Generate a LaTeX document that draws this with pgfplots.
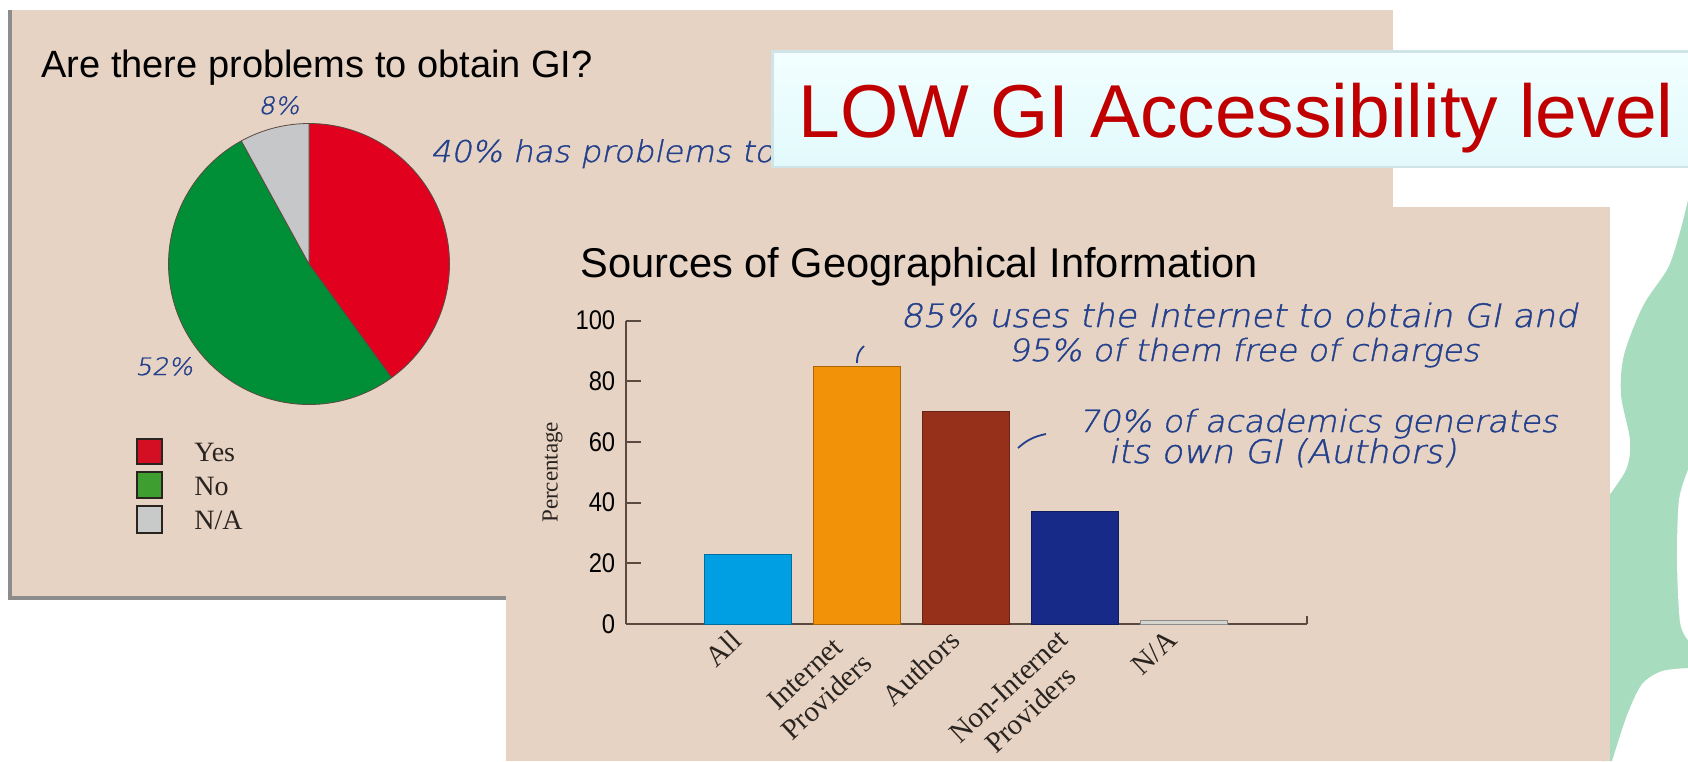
\documentclass[border=0pt]{standalone}
\usepackage{fontspec}
\setmainfont{Liberation Serif}
\newfontfamily\arial{Liberation Sans}
\newfontfamily\arialc{Liberation Sans}[FakeStretch=0.88]
\newfontfamily\hand{DejaVu Sans ExtraLight}[FakeSlant=0.2, FakeStretch=1.08, FakeBold=1.2]
\usepackage{pgfplots}
\pgfplotsset{compat=1.18}
\definecolor{panel}{HTML}{E6D3C4}
\definecolor{panelborder}{HTML}{8C8C8C}
\definecolor{pieyes}{HTML}{E1001E}
\definecolor{pieno}{HTML}{008F36}
\definecolor{piena}{HTML}{C5C7C8}
\definecolor{legyes}{HTML}{D40F24}
\definecolor{legno}{HTML}{3E9E2F}
\definecolor{legna}{HTML}{C8C9C9}
\definecolor{pieedge}{HTML}{5A4A40}
\definecolor{axiscol}{HTML}{5A4A40}
\definecolor{cAll}{HTML}{009FE3}
\definecolor{cIP}{HTML}{F29209}
\definecolor{cAu}{HTML}{96301B}
\definecolor{cNI}{HTML}{172A88}
\definecolor{cNA}{HTML}{D5D5CD}
\definecolor{handblue}{HTML}{23408C}
\definecolor{titlered}{HTML}{C00000}
\definecolor{boxtop}{HTML}{F2FEFF}
\definecolor{boxbot}{HTML}{E2FAFC}
\definecolor{boxborder}{HTML}{CFE4E6}
\definecolor{greenblob}{HTML}{A8DCBE}
\definecolor{textdark}{HTML}{2A2420}
\begin{document}
\begin{tikzpicture}
\path[use as bounding box] (0pt,0pt) rectangle (844pt,-380.5pt);
\clip (0pt,0pt) rectangle (844pt,-380.5pt);
\begin{scope}[x=0.5pt,y=-0.5pt]
\fill[white] (0,0) rectangle (1688,761);
% green decorative blob
\fill[greenblob] plot[smooth, tension=0.5] coordinates {(1688,200) (1680,232) (1668,268) (1643,306) (1624,355) (1621,395) (1630,440) (1626,470) (1602,505)}
  -- (1602,761) -- plot[smooth, tension=0.5] coordinates {(1612,761) (1627,715) (1642,684) (1662,671) (1688,668)} -- cycle;
\fill[white] plot[smooth, tension=0.5] coordinates {(1688,640) (1680,622) (1677,560) (1679,500) (1688,470)} -- cycle;
% back panel
\fill[panel] (10,10) rectangle (1393,598);
\fill[panelborder] (8,10) rectangle (12,600);
\fill[panelborder] (8,596) rectangle (520,600);
\node[anchor=base west, inner sep=0pt, text=black, font=\arial\fontsize{19}{22}\selectfont] at (41,77) {Are there problems to obtain GI?};
% legend
\filldraw[fill=legyes, draw=textdark, line width=0.6pt] (137,439) rectangle (162,464);
\filldraw[fill=legno, draw=textdark, line width=0.6pt] (137,472) rectangle (162,498);
\filldraw[fill=legna, draw=textdark, line width=0.6pt] (137,506) rectangle (162,533);
\node[anchor=west, inner sep=0pt, text=textdark, font=\fontsize{14}{16}\selectfont] at (194,452) {Yes};
\node[anchor=west, inner sep=0pt, text=textdark, font=\fontsize{14}{16}\selectfont] at (194,486) {No};
\node[anchor=west, inner sep=0pt, text=textdark, font=\fontsize{14}{16}\selectfont] at (194,520) {N/A};
% handwritten notes on the pie slide
\node[anchor=base west, inner sep=0pt, text=handblue, font=\hand\fontsize{12}{14}\selectfont] at (258,114) {8\%};
\node[anchor=base west, inner sep=0pt, text=handblue, font=\hand\fontsize{12}{14}\selectfont] at (135,375) {52\%};
\node[anchor=base west, inner sep=0pt, text=handblue, font=\hand\fontsize{15}{17}\selectfont] at (430,162) {40\% has problems to obtain GI};
\end{scope}
% pie chart
\begin{axis}[at={(154.5pt,-132pt)}, anchor=center, hide axis, scale only axis,
  x=0.5pt, y=0.5pt, xmin=-142, xmax=142, ymin=-142, ymax=142, clip=false]
\filldraw[fill=pieyes, draw=pieedge, line width=0.4pt] (axis cs:0,0) -- (axis cs:0,140.5)
  arc[start angle=90, delta angle={-3.6*40}, radius=70.25pt] -- cycle;
\filldraw[fill=pieno, draw=pieedge, line width=0.4pt] (axis cs:0,0) -- ++({90-3.6*40}:70.25pt)
  arc[start angle={90-3.6*40}, delta angle={-3.6*52}, radius=70.25pt] -- cycle;
\filldraw[fill=piena, draw=pieedge, line width=0.4pt] (axis cs:0,0) -- ++({90-3.6*92}:70.25pt)
  arc[start angle={90-3.6*92}, delta angle={-3.6*8}, radius=70.25pt] -- cycle;
\end{axis}
\begin{scope}[x=0.5pt,y=-0.5pt]
% title box
\fill[boxborder] (771,50) rectangle (1688,168);
\shade[top color=boxtop, bottom color=boxbot] (774,53) rectangle (1688,165);
\node[anchor=base west, inner sep=0pt, text=titlered, font=\arial\fontsize{37.5}{40}\selectfont] at (798,137) {LOW GI Accessibility level};
% front panel
\fill[panel] (506,207) rectangle (1610,761);
\node[anchor=base west, inner sep=0pt, text=black, font=\arial\fontsize{20.8}{23}\selectfont] at (580,277) {Sources of Geographical Information};
% notes
\node[anchor=base west, inner sep=0pt, text=handblue, font=\hand\fontsize{16.1}{18}\selectfont] at (900,327) {85\% uses the Internet to obtain GI and};
\node[anchor=base west, inner sep=0pt, text=handblue, font=\hand\fontsize{15.3}{17}\selectfont] at (1008,361) {95\% of them free of charges};
\node[anchor=base west, inner sep=0pt, text=handblue, font=\hand\fontsize{15.3}{17}\selectfont] at (1078,432) {70\% of academics generates};
\node[anchor=base west, inner sep=0pt, text=handblue, font=\hand\fontsize{16.2}{18}\selectfont] at (1108,463) {its own GI (Authors)};
\draw[handblue, line width=0.9pt] (864,346) to[bend right=25] (857,363);
\draw[handblue, line width=0.9pt] (1018,448) to[bend left=15] (1046,434);
\end{scope}
% bar chart
\begin{axis}[
  at={(312.8pt,-312pt)}, anchor=south west,
  scale only axis, width=340.7pt, height=151.7pt,
  xmin=-1.12, xmax=5.13, ymin=0, ymax=100,
  axis lines*=left,
  axis line style={draw=axiscol, line width=1pt},
  ytick={0,20,40,60,80,100},
  xtick={0,1,2,3,4},
  xticklabels={All,{Internet\\Providers},Authors,{Non-Internet\\Providers},N/A},
  x tick style={draw=none},
  y tick style={draw=axiscol, line width=1pt},
  tick align=inside,
  major tick length=7.5pt,
  /pgf/number format/assume math mode=true,
  yticklabel style={font=\arialc\fontsize{13.5}{15}\selectfont, text=black, anchor=east, inner sep=0pt, xshift=-5pt},
  xticklabel style={font=\fontsize{14.5}{16}\selectfont, xshift=-9pt, yshift=-2pt, rotate=43, anchor=north east, align=center, inner sep=0pt, text=textdark},
  ylabel={Percentage},
  every axis y label/.style={at={(axis description cs:-0.107,0.5)}, rotate=90, anchor=center, font=\fontsize{11.5}{13}\selectfont, text=textdark},
  clip=false,
]
\addplot[ybar, bar width=0.8, bar shift=0pt, fill=cAll, draw=cAll!70!black, line width=0.5pt] coordinates {(0,23)};
\addplot[ybar, bar width=0.8, bar shift=0pt, fill=cIP, draw=cIP!70!black, line width=0.5pt] coordinates {(1,85)};
\addplot[ybar, bar width=0.8, bar shift=0pt, fill=cAu, draw=cAu!70!black, line width=0.5pt] coordinates {(2,70)};
\addplot[ybar, bar width=0.8, bar shift=0pt, fill=cNI, draw=cNI!70!black, line width=0.5pt] coordinates {(3,37)};
\addplot[ybar, bar width=0.8, bar shift=0pt, fill=cNA, draw=black!45, line width=0.5pt] coordinates {(4,1)};
\draw[axiscol, line width=1pt] (axis cs:5.13,0) -- (axis cs:5.13,2.5);
\end{axis}
\end{tikzpicture}
\end{document}
